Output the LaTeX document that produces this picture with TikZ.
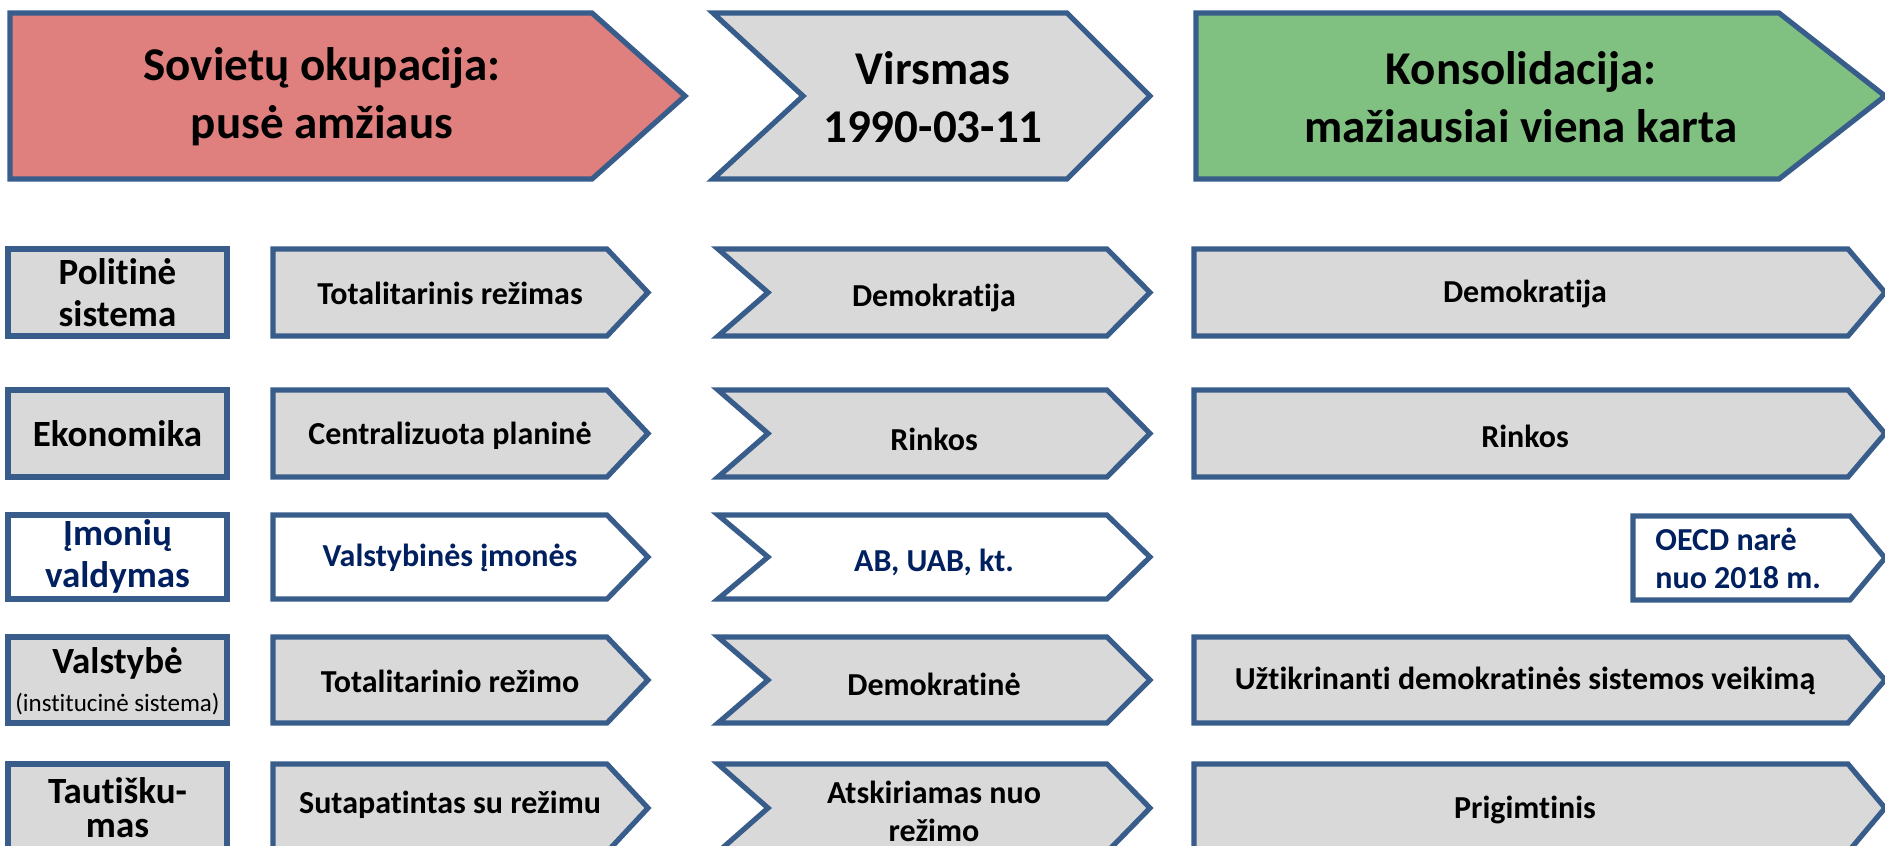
\documentclass[tikz,border=0pt]{standalone}
\usepackage{fontspec}
\setmainfont{Carlito}[Ligatures=NoCommon, RawFeature=-liga]
\definecolor{edge}{HTML}{385D8A}
\definecolor{grayf}{HTML}{D9D9D9}
\definecolor{redf}{HTML}{DF7F7E}
\definecolor{greenf}{HTML}{80C080}
\definecolor{navy}{HTML}{002060}
\tikzset{
  shp/.style={draw=edge, line width=2.6pt, line join=miter},
  head/.style={font=\fontsize{23.5}{29}\selectfont\bfseries, align=center, inner sep=0pt},
  lab/.style={font=\fontsize{18.5}{21}\selectfont\bfseries, align=center, inner sep=0pt},
  txt/.style={font=\fontsize{16}{19}\selectfont\bfseries, align=center, inner sep=0pt},
}
% pentagon arrow: left, top, bottom, shoulder, tip, mid
\newcommand\pentarrow[7][grayf]{\draw[shp, fill=#1] (#2,#3) -- (#5,#3) -- (#6,#7) -- (#5,#4) -- (#2,#4) -- cycle;}
% chevron: left, notch, top, bottom, shoulder, tip, mid
\newcommand\chevarrow[8][grayf]{\draw[shp, fill=#1] (#2,#4) -- (#6,#4) -- (#7,#8) -- (#6,#5) -- (#2,#5) -- (#3,#8) -- cycle;}
\newcommand\labbox[4][grayf]{\draw[shp, fill=#1] (8,#2) rectangle (227,#3);}
\begin{document}
\begin{tikzpicture}[x=0.5pt,y=-0.5pt]
\useasboundingbox (0,0) rectangle (1885,846);
% header
\pentarrow[redf]{10}{13}{179}{592}{685}{96}
\chevarrow{713}{803}{13}{179}{1067}{1150}{96}
\pentarrow[greenf]{1196}{13}{179}{1779}{1885}{96}
\node[head] (h1) at (322,97) {Sovietų okupacija:\\pusė amžiaus};
\node[head] (h2) at (933,97) {Virsmas\\1990-03-11};
\node[head] (h3) at (1521,97) {Konsolidacija:\\mažiausiai viena karta};
% row 1
\labbox{249}{336}{}
\pentarrow{273}{249}{336}{607}{648}{292.5}
\chevarrow{718}{768}{249}{336}{1107}{1150}{292.5}
\pentarrow{1194}{249}{336}{1848}{1885}{292.5}
\node[lab] (l1) at (117.5,293) {Politinė\\sistema};
\node[txt] (a1) at (450,293.5) {Totalitarinis režimas};
\node[txt] (b1) at (934,298) {Demokratija};
\node[txt] (c1) at (1525,294) {Demokratija};
% row 2
\labbox{390}{477}{}
\pentarrow{273}{390}{477}{607}{648}{433.5}
\chevarrow{718}{768}{390}{477}{1107}{1150}{433.5}
\pentarrow{1194}{390}{477}{1848}{1885}{433.5}
\node[lab] (l2) at (117.5,434) {Ekonomika};
\node[txt] (a2) at (450,436) {Centralizuota planinė};
\node[txt] (b2) at (934,439) {Rinkos};
\node[txt] (c2) at (1525,436) {Rinkos};
% row 3
\labbox[white]{515}{599}{}
\pentarrow[white]{273}{515}{599}{607}{648}{557}
\chevarrow[white]{718}{768}{515}{599}{1107}{1150}{557}
\pentarrow[white]{1633}{516}{600}{1850}{1885}{558}
\node[lab, text=navy] (l3) at (117.5,556) {Įmonių\\valdymas};
\node[txt, text=navy] (a3) at (450,558) {Valstybinės įmonės};
\node[txt, text=navy] (b3) at (934,562) {AB, UAB, kt.};
\node[txt, text=navy, align=left, anchor=west] (c3) at (1655,558) {OECD narė\\nuo 2018 m.};
% row 4
\labbox{637}{723}{}
\pentarrow{273}{637}{723}{607}{648}{680}
\chevarrow{718}{768}{637}{723}{1107}{1150}{680}
\pentarrow{1194}{637}{723}{1848}{1885}{680}
\node[lab] (l4) at (117.5,681) {Valstybė\\[-2pt]{\fontsize{12.5}{14}\selectfont\mdseries (institucinė sistema)}};
\node[txt] (a4) at (450,681) {Totalitarinio režimo};
\node[txt] (b4) at (934,684) {Demokratinė};
\node[txt] (c4) at (1525,681) {Užtikrinanti demokratinės sistemos veikimą};
% row 5
\labbox{764}{852}{}
\pentarrow{273}{764}{852}{607}{648}{808}
\chevarrow{718}{768}{764}{852}{1107}{1150}{808}
\pentarrow{1194}{764}{852}{1848}{1885}{808}
\node[lab] (l5) at (117.5,808) {Tautišku-\\[-4pt]mas};
\node[txt] (a5) at (450,805) {Sutapatintas su režimu};
\node[txt] (b5) at (934,811) {Atskiriamas nuo\\režimo};
\node[txt] (c5) at (1525,810) {Prigimtinis};
\end{tikzpicture}
\end{document}
